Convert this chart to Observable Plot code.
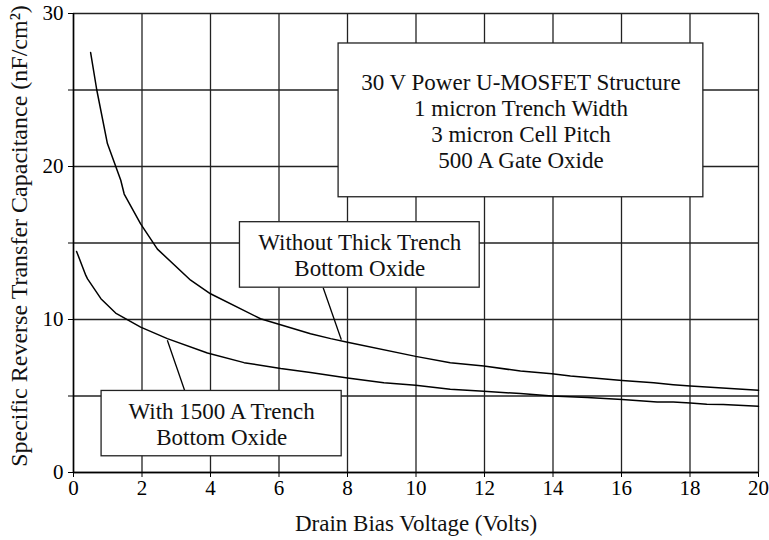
<!DOCTYPE html>
<html>
<head>
<meta charset="utf-8">
<script src="https://cdn.jsdelivr.net/npm/d3@7"></script>
<script src="https://cdn.jsdelivr.net/npm/@observablehq/plot@0.6"></script>
<style>
  html, body { margin: 0; padding: 0; background: #fff; }
</style>
</head>
<body>
<div id="chart"></div>
<script>
// Series: without thick trench bottom oxide
const withoutX = [0.5, 0.68, 0.99, 1.38, 1.48, 1.96, 2.45, 3.42, 4.0, 5.46, 6.92, 7.51, 8.0, 9.99, 11.0, 11.98, 13.05, 13.97, 14.51, 16.02, 16.94, 17.51, 18.01, 20];
const withoutY = [27.45, 25.0, 21.5, 19.1, 18.2, 16.25, 14.6, 12.57, 11.68, 10.05, 9.07, 8.75, 8.52, 7.59, 7.18, 6.96, 6.63, 6.46, 6.31, 6.02, 5.87, 5.74, 5.65, 5.37];
// Series: with 1500 A trench bottom oxide
const withX = [0.09, 0.36, 0.41, 0.8, 1.23, 1.96, 2.74, 3.91, 4.98, 6.05, 6.92, 8.0, 9.06, 9.99, 11.0, 11.98, 13.05, 13.97, 15.0, 16.02, 17.04, 17.51, 18.01, 18.49, 18.97, 20];
const withY = [14.45, 12.88, 12.66, 11.36, 10.42, 9.5, 8.75, 7.81, 7.18, 6.79, 6.53, 6.17, 5.87, 5.7, 5.44, 5.31, 5.16, 5.0, 4.9, 4.77, 4.61, 4.61, 4.54, 4.46, 4.44, 4.33];

// Axis ticks and titles
const xTicks = [0, 2, 4, 6, 8, 10, 12, 14, 16, 18, 20];
const yTicks = [0, 5, 10, 15, 20, 25, 30];
const yLabelTicks = [0, 10, 20, 30];
const xTitle = "Drain Bias Voltage (Volts)";
const yTitle = "Specific Reverse Transfer Capacitance (nF/cm²)";

// Annotation texts
const infoText = "30 V Power U-MOSFET Structure\n1 micron Trench Width\n3 micron Cell Pitch\n500 A Gate Oxide";
const withoutText = "Without Thick Trench\nBottom Oxide";
const withText = "With 1500 A Trench\nBottom Oxide";

// Annotation anchors (data coordinates)
const boxes = [
  {x1: 7.74, x2: 18.39, y1: 17.99, y2: 28.04, label: infoText},
  {x1: 4.86, x2: 11.86, y1: 12.08, y2: 16.36, label: withoutText},
  {x1: 0.82, x2: 7.83, y1: 1.06, y2: 5.33, label: withText}
];
const leaders = [
  {x1: 7.29, y1: 12.08, x2: 7.82, y2: 8.68},
  {x1: 2.74, y1: 8.64, x2: 3.25, y2: 5.33}
];

const lineData = [
  ...withoutX.map((x, i) => ({x, y: withoutY[i], s: "Without Thick Trench Bottom Oxide"})),
  ...withX.map((x, i) => ({x, y: withY[i], s: "With 1500 A Trench Bottom Oxide"}))
];

const serif = "'Liberation Serif', 'Times New Roman', Times, serif";
const gridStyle = {stroke: "#222", strokeOpacity: 1, strokeWidth: 1.3};

const chart = Plot.plot({
  width: 769,
  height: 540,
  marginLeft: 73,
  marginRight: 11,
  marginTop: 13,
  marginBottom: 68,
  style: {fontFamily: serif, fontSize: "21px", color: "#000", background: "#fff", overflow: "visible"},
  x: {domain: [0, 20]},
  y: {domain: [0, 30]},
  marks: [
    Plot.gridX(xTicks, gridStyle),
    Plot.gridY(yTicks, gridStyle),
    Plot.axisX(xTicks, {tickSize: 5, tickPadding: 3, fontSize: 21, label: null}),
    Plot.axisY(yTicks, {
      tickSize: 5, tickPadding: 5, fontSize: 21, label: null,
      tickFormat: d => yLabelTicks.includes(d) ? String(d) : ""
    }),
    Plot.text([xTitle], {frameAnchor: "bottom", dy: 58, lineAnchor: "bottom", textAnchor: "middle", fontSize: 23, fill: "#111"}),
    Plot.text([yTitle], {frameAnchor: "left", dx: -47, dy: -7, rotate: -90, lineAnchor: "bottom", textAnchor: "middle", fontSize: 24, fill: "#111"}),
    Plot.ruleX([0], {stroke: "#000", strokeWidth: 1.5}),
    Plot.ruleY([0], {stroke: "#000", strokeWidth: 1.5}),
    Plot.line(lineData, {x: "x", y: "y", z: "s", stroke: "#000", strokeWidth: 1.5, curve: "linear"}),
    Plot.link(leaders, {x1: "x1", y1: "y1", x2: "x2", y2: "y2", stroke: "#000", strokeWidth: 1.3}),
    Plot.rect(boxes, {x1: "x1", x2: "x2", y1: "y1", y2: "y2", fill: "#fff", stroke: "#222", strokeWidth: 1.3}),
    Plot.text(boxes, {
      x: d => (d.x1 + d.x2) / 2, y: d => (d.y1 + d.y2) / 2, text: "label",
      fontSize: 23, lineHeight: 1.13, textAnchor: "middle", lineAnchor: "middle", fill: "#111"
    })
  ]
});
document.getElementById("chart").append(chart);
</script>
</body>
</html>
